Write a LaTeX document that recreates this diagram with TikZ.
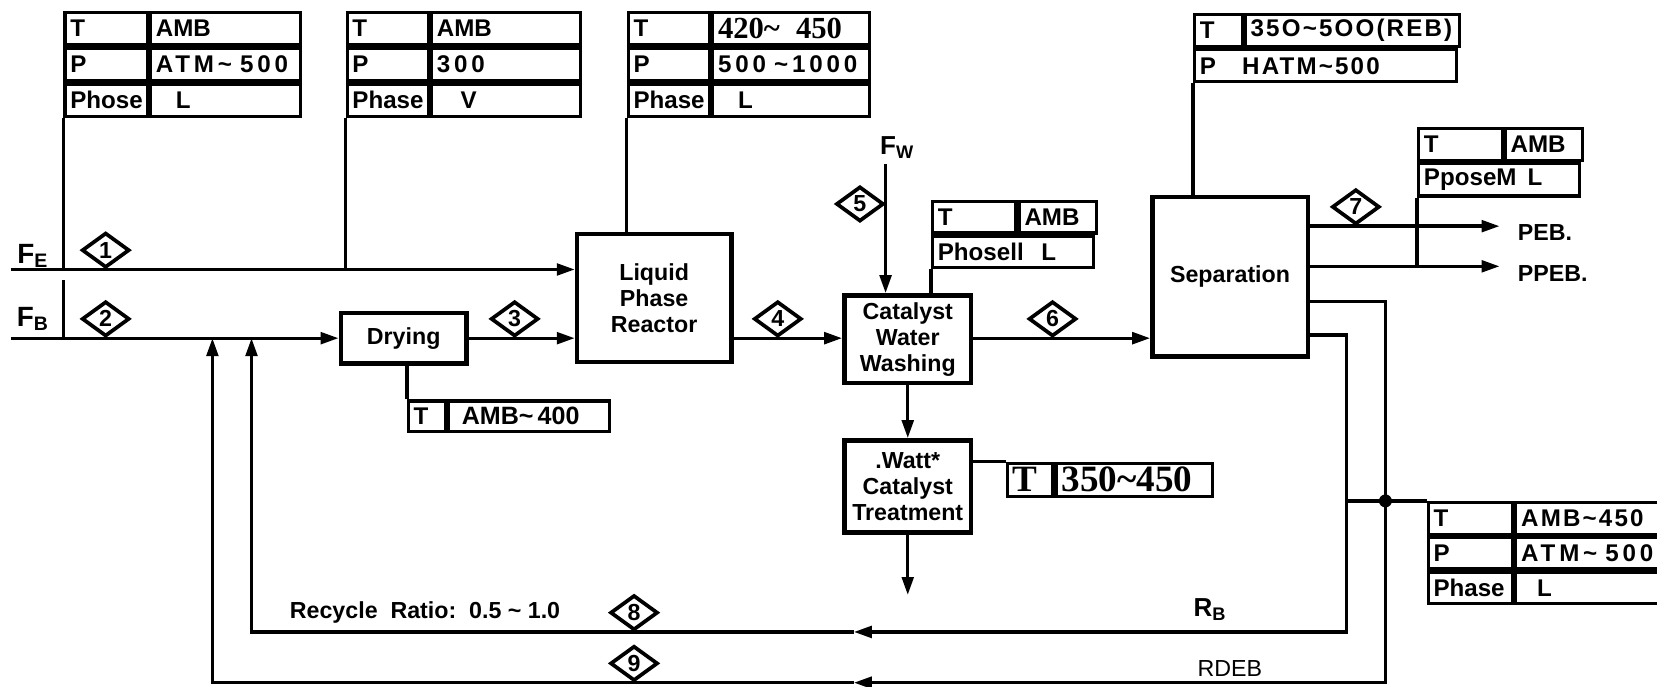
\documentclass[tikz,border=0pt]{standalone}
\usepackage{fontspec}
\setmainfont{Liberation Sans}
\newfontfamily\widefont[LetterSpace=16]{Liberation Sans}
\newfontfamily\semifont[LetterSpace=9]{Liberation Sans}
\newfontfamily\numfont{Liberation Serif}
\usetikzlibrary{arrows.meta,positioning,shapes.geometric}

\begin{document}
\begin{tikzpicture}[x=0.02cm, y=-0.02cm,
    pipe/.style={line width=1.8pt},
    flow/.style={pipe, -{Triangle[length=0.34cm, width=0.22cm]}},
    block/.style={draw, line width=2.4pt, align=center, inner sep=0pt,
      font=\fontsize{12.5}{14}\selectfont\bfseries},
    tag/.style={diamond, draw, line width=2pt, inner sep=0pt,
      minimum width=0.9cm, minimum height=0.66cm,
      font=\fontsize{12.5}{12.5}\selectfont\bfseries},
    cell/.style={draw, line width=1.7pt, anchor=north west, inner xsep=0.1cm,
      inner ysep=0pt, minimum height=0.62cm, text width=#1, align=left,
      font=\fontsize{13}{14}\selectfont\bfseries},
    feed/.style={inner sep=0pt, font=\fontsize{15}{15}\selectfont\bfseries},
    lab/.style={inner sep=0pt, anchor=west, font=\fontsize{12.5}{13}\selectfont\bfseries}]
  \useasboundingbox (0,0) rectangle (1568,650);

  % --- process units ---
  \node[block, minimum width=2.92cm, minimum height=2.42cm] (reactor) at (619,282) {Liquid\\Phase\\Reactor};
  \node[block, minimum width=2.38cm, minimum height=0.96cm] (drying) at (382,320) {Drying};
  \node[block, minimum width=2.4cm, minimum height=1.66cm] (washing) at (859,321) {Catalyst\\Water\\Washing};
  \node[block, minimum width=2.4cm, minimum height=1.74cm, below=1cm of washing] (treatment) {.Watt*\\Catalyst\\Treatment};
  \node[block, minimum width=2.94cm, minimum height=3.02cm] (separation) at (1164,262) {Separation};

  % --- condition tables ---
  \node[cell=1.36cm] (t1a) at (60,10) {T};
  \node[cell=2.64cm] (t1b) at (t1a.north east) {AMB};
  \node[cell=1.36cm] (t1c) at (t1a.south west) {P};
  \node[cell=2.64cm] (t1d) at (t1c.north east) {\widefont ATM\textasciitilde\ 500};
  \node[cell=1.36cm] (t1e) at (t1c.south west) {Phose};
  \node[cell=2.64cm] (t1f) at (t1e.north east) {\hspace*{0.38cm}L};

  \node[cell=1.34cm] (t2a) at (327,10) {T};
  \node[cell=2.62cm] (t2b) at (t2a.north east) {AMB};
  \node[cell=1.34cm] (t2c) at (t2a.south west) {P};
  \node[cell=2.62cm] (t2d) at (t2c.north east) {\widefont 300};
  \node[cell=1.34cm] (t2e) at (t2c.south west) {Phase};
  \node[cell=2.62cm] (t2f) at (t2e.north east) {\hspace*{0.45cm}V};

  \node[cell=1.34cm] (t3a) at (593,10) {T};
  \node[cell=2.76cm] (t3b) at (t3a.north east) {\numfont\fontsize{16.5}{16.5}\selectfont 420\textasciitilde\ \ 450};
  \node[cell=1.34cm] (t3c) at (t3a.south west) {P};
  \node[cell=2.76cm] (t3d) at (t3c.north east) {\widefont 500 \textasciitilde1000};
  \node[cell=1.34cm] (t3e) at (t3c.south west) {Phase};
  \node[cell=2.76cm] (t3f) at (t3e.north east) {\hspace*{0.38cm}L};

  \node[cell=0.7cm, minimum height=0.61cm] (t4a) at (1129,12) {T};
  \node[cell=3.86cm, minimum height=0.61cm] (t4b) at (t4a.north east) {\semifont 35O\textasciitilde5OO(REB)};
  \node[cell=4.76cm, minimum height=0.61cm] (t4c) at (t4a.south west) {\makebox[0.8cm][l]{P}{\semifont HATM\textasciitilde500}};

  \node[cell=1.38cm, minimum height=0.6cm] (t5a) at (881,189) {T};
  \node[cell=1.26cm, minimum height=0.6cm] (t5b) at (t5a.north east) {AMB};
  \node[cell=2.84cm, minimum height=0.6cm] (t5c) at (t5a.south west) {\makebox[1.96cm][l]{Phosell}L};

  \node[cell=1.38cm, minimum height=0.61cm] (t6a) at (1341,120) {T};
  \node[cell=1.26cm, minimum height=0.61cm] (t6b) at (t6a.north east) {AMB};
  \node[cell=2.84cm, minimum height=0.61cm] (t6c) at (t6a.south west) {\makebox[1.96cm][l]{PposeM}L};

  \node[cell=0.5cm, minimum height=0.58cm] (t7a) at (385,378) {T};
  \node[cell=2.84cm, minimum height=0.58cm, font=\fontsize{13.5}{13.5}\selectfont\bfseries] (t7b) at (t7a.north east) {\hspace*{0.15cm}AMB\textasciitilde\,400};

  \node[cell=0.66cm, font=\fontsize{20}{20}\selectfont\bfseries\numfont] (t8a) at (952,437) {T};
  \node[cell=2.76cm, font=\fontsize{20}{20}\selectfont\bfseries\numfont] (t8b) at (t8a.north east) {350\textasciitilde450};

  \node[cell=1.4cm, minimum height=0.6cm] (t9a) at (1350,474) {T};
  \node[cell=2.52cm, minimum height=0.6cm] (t9b) at (t9a.north east) {\semifont AMB\textasciitilde450};
  \node[cell=1.4cm, minimum height=0.6cm] (t9c) at (t9a.south west) {P};
  \node[cell=2.52cm, minimum height=0.6cm] (t9d) at (t9c.north east) {\widefont ATM\textasciitilde\ 500};
  \node[cell=1.4cm, minimum height=0.6cm] (t9e) at (t9c.south west) {Phase};
  \node[cell=2.52cm, minimum height=0.6cm] (t9f) at (t9e.north east) {\hspace*{0.3cm}L};

  % --- feeds and main line ---
  \coordinate (fein) at (10,255);
  \coordinate (fbin) at (10,320);
  \coordinate (fbtick) at (60,265);
  \node[feed] (fe) at (31,242) {F\textsubscript{E}};
  \node[feed] (fb) at (31,302) {F\textsubscript{B}};
  \draw[flow] (fein) -- (fein -| reactor.west);
  \draw[flow] (fbin) -- (fbin -| drying.west);
  \draw[flow] (drying.east) -- (drying.east -| reactor.west);
  \draw[flow] (fbin -| reactor.east) -- (fbin -| washing.west);
  \draw[flow] (fbin -| washing.east) -- (fbin -| separation.west);

  % --- table leaders ---
  \draw[pipe] (t1e.south west) -- (t1e.south west |- fein);
  \draw[pipe] (fbtick) -- (fbtick |- fbin);
  \draw[pipe] (t2e.south west) -- (t2e.south west |- fein);
  \draw[pipe] (t3e.south west) -- (t3e.south west |- reactor.north);
  \draw[pipe] (t7a.north west) -- (t7a.north west |- drying.south);
  \draw[pipe] (t5c.south west) -- (t5c.south west |- washing.north);
  \draw[pipe] (t4c.south west) -- (t4c.south west |- separation.north);
  \draw[pipe] (treatment.east |- t8a.north west) -- (t8a.north west);

  % --- water and catalyst ---
  \node[feed, font=\fontsize{14}{14}\selectfont\bfseries] (fw) at (849,140) {F\textsubscript{W}};
  \coordinate (fwtop) at (838,155);
  \draw[flow] (fwtop) -- (fwtop |- washing.north);
  \draw[flow] (washing) -- (treatment);
  \coordinate (tout) at (859,563);
  \draw[flow] (treatment.south) -- (tout);

  % --- products ---
  \coordinate (pebout) at (1419,214);
  \coordinate (ppebout) at (1419,252);
  \node[lab] (peb) at (1436,220) {PEB.};
  \node[lab] (ppeb) at (1436,259) {PPEB.};
  \draw[flow] (separation.east |- pebout) -- (pebout);
  \draw[flow] (separation.east |- ppebout) -- (ppebout);
  \draw[pipe] (t6c.south west) -- (t6c.south west |- ppebout);

  % --- recycles ---
  \coordinate (outer) at (1311,285);
  \coordinate (inner) at (1274,317);
  \coordinate (rbend) at (238,598);
  \coordinate (rdend) at (201,646);
  \coordinate (rmark) at (808,0);
  \draw[flow] (separation.east |- inner) -| (inner |- rbend) -- (rmark |- rbend);
  \draw[flow] (rmark |- rbend) -- (rbend) -- (rbend |- fbin);
  \draw[flow] (separation.east |- outer) -| (outer |- rdend) -- (rmark |- rdend);
  \draw[flow] (rmark |- rdend) -- (rdend) -- (rdend |- fbin);
  \node[circle, fill, inner sep=0pt, minimum size=7pt] (junc) at (outer |- t9a.north) {};
  \draw[pipe] (inner |- junc) -- (t9a.north west);

  % --- stream tags ---
  \node[tag, anchor=south] (d1) at (100,255) {1};
  \node[tag, anchor=south] (d2) at (100,320) {2};
  \node[tag, anchor=south] (d3) at (487,320) {3};
  \node[tag, anchor=south] (d4) at (736,320) {4};
  \node[tag, anchor=east] (d5) at (838,193) {5};
  \node[tag, anchor=south] (d6) at (996,320) {6};
  \node[tag, anchor=south] (d7) at (1283,214) {7};
  \node[tag, anchor=south] (d8) at (600,598) {8};
  \node[tag, anchor=south] (d9) at (600,646) {9};

  \node[lab] (ratio) at (274,580) {Recycle\ \ Ratio:\ \ 0.5 \textasciitilde\ 1.0};
  \node[feed, font=\fontsize{14}{14}\selectfont\bfseries] (rb) at (1145,577) {R\textsubscript{B}};
  \node[lab, font=\fontsize{12.5}{13}\selectfont] (rdeb) at (1133,633) {RDEB};
\end{tikzpicture}
\end{document}
